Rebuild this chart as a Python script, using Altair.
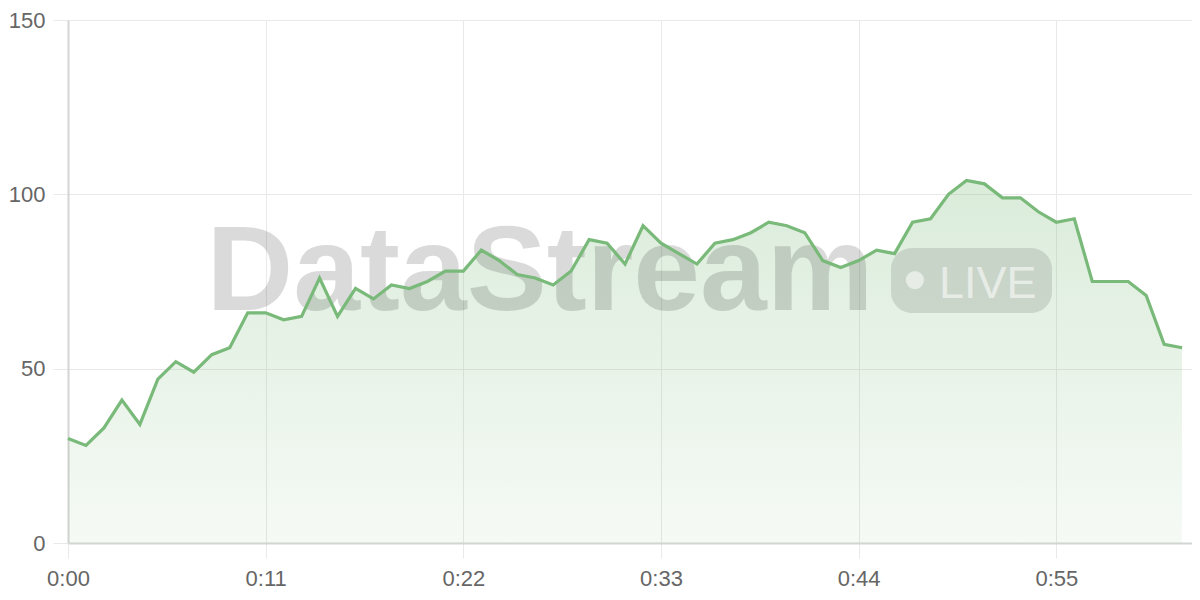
import altair as alt
import pandas as pd

# --- data ---
seconds = list(range(63))
values = [30, 28, 33, 41, 34, 47, 52, 49, 54, 56,
          66, 66, 64, 65, 76, 65, 73, 70, 74, 73,
          75, 78, 78, 84, 81, 77, 76, 74, 78, 87,
          86, 80, 91, 86, 83, 80, 86, 87, 89, 92,
          91, 89, 81, 79, 81, 84, 83, 92, 93, 100,
          104, 103, 99, 99, 95, 92, 93, 75, 75, 75,
          71, 57, 56]
x_ticks = [0, 11, 22, 33, 44, 55]
x_tick_labels = ["0:00", "0:11", "0:22", "0:33", "0:44", "0:55"]
y_ticks = [0, 50, 100, 150]
watermark_text = "DataStream"
badge_text = "LIVE"

df = pd.DataFrame({"t": seconds, "v": values})

label_expr = " : ".join(
    f"datum.value == {v} ? '{l}'" for v, l in zip(x_ticks, x_tick_labels)
) + " : ''"

FONT = "Liberation Sans"
LINE = "#79b979"

x_scale = alt.Scale(domain=[0, 62.55], nice=False, zero=False)
y_scale = alt.Scale(domain=[0, 150], nice=False)

x_enc = alt.X("t:Q", scale=x_scale,
              axis=alt.Axis(values=x_ticks, labelExpr=label_expr, title=None,
                            grid=True, gridColor="#e9e9e9", tickColor="#e9e9e9",
                            tickSize=15, domainColor="#d2d6d2", domainWidth=2,
                            labelFontSize=22, labelColor="#666666", labelFont=FONT,
                            labelPadding=10, labelFlush=False))
y_enc = alt.Y("v:Q", scale=y_scale,
              axis=alt.Axis(values=y_ticks, title=None, grid=True,
                            gridColor="#e9e9e9", tickColor="#e9e9e9", tickSize=15,
                            domainColor="#d4d4d4", domainWidth=2,
                            labelFontSize=22, labelColor="#666666", labelFont=FONT,
                            labelPadding=8))

area = alt.Chart(df).mark_area(
    color=alt.Gradient(
        gradient="linear",
        stops=[alt.GradientStop(color="rgba(120,184,120,0.27)", offset=0),
               alt.GradientStop(color="rgba(120,184,120,0.07)", offset=1)],
        x1=0, x2=0, y1=0, y2=1),
).encode(x=x_enc, y=y_enc)

wm_df = pd.DataFrame({"t": [26.27], "v": [66.8], "txt": [watermark_text]})
watermark = alt.Chart(wm_df).mark_text(
    font=FONT, fontWeight="bold", fontSize=120, align="center",
    baseline="alphabetic", color="#000000", opacity=0.14
).encode(x=alt.X("t:Q", scale=x_scale), y=alt.Y("v:Q", scale=y_scale), text="txt:N")

badge_df = pd.DataFrame({"t": [45.8], "t2": [54.76], "v": [84.6], "v2": [66.0]})
badge = alt.Chart(badge_df).mark_rect(
    cornerRadius=21, color="#000000", opacity=0.11
).encode(x=alt.X("t:Q", scale=x_scale), x2="t2:Q",
         y=alt.Y("v:Q", scale=y_scale), y2="v2:Q")

dot_df = pd.DataFrame({"t": [47.13], "v": [75.4]})
dot = alt.Chart(dot_df).mark_circle(
    size=330, color="#ffffff", opacity=0.55
).encode(x=alt.X("t:Q", scale=x_scale), y=alt.Y("v:Q", scale=y_scale))

live_df = pd.DataFrame({"t": [48.47], "v": [70.35], "txt": [badge_text]})
live = alt.Chart(live_df).mark_text(
    font=FONT, fontSize=45, align="left", baseline="alphabetic",
    color="#ffffff", opacity=0.55
).encode(x=alt.X("t:Q", scale=x_scale), y=alt.Y("v:Q", scale=y_scale), text="txt:N")

line = alt.Chart(df).mark_line(color=LINE, strokeWidth=3.2).encode(x=x_enc, y=y_enc)

chart = alt.layer(area, watermark, badge, dot, live, line).properties(
    width=1124, height=523,
    autosize=alt.AutoSizeParams(type="none"),
    padding={"left": 60, "top": 12, "right": 0, "bottom": 49},
).configure_view(stroke=None)

chart.save("out.html", embed_options={"renderer": "svg", "actions": False})
